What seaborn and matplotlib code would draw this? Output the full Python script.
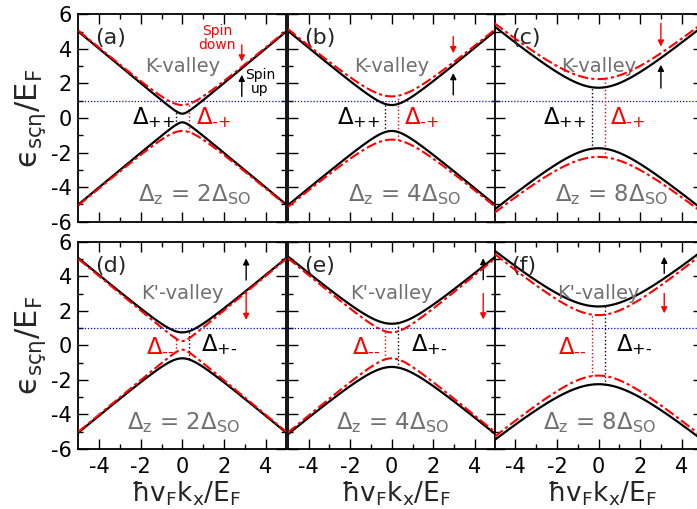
import numpy as np
import matplotlib
matplotlib.use("Agg")
import matplotlib.pyplot as plt
import seaborn as sns

sns.set_style("ticks")
plt.rcParams["font.family"] = ["DejaVu Sans"]
plt.rcParams["mathtext.fontset"] = "dejavusans"

# Zeeman-to-spin-orbit ratios for the three columns
dz_ratio = [2, 4, 8]
panel_tags = [["(a)", "(b)", "(c)"], ["(d)", "(e)", "(f)"]]
valley_names = ["K-valley", "K'-valley"]

# half-gaps (in units of E_F) of the spin-up (black) and spin-down (red) bands
gap_black = [[0.25, 0.75, 1.75],   # K valley
             [0.75, 1.25, 2.25]]   # K' valley
gap_red = [[0.75, 1.25, 2.25],
           [0.25, 0.75, 1.75]]
fermi_level = 1.0

# subscripts of the gap labels
black_sub = ["++", "+-"]
red_sub = ["-+", "--"]

# gap-label anchor positions (x of the label edge)
black_lbl_x = [[-0.37, -0.56, -0.58], [0.92, 0.95, 0.85]]
red_lbl_x = [[0.68, 0.59, 0.53], [-0.37, -0.55, -0.59]]

# spin arrows: x, (y_tail, y_head)
arrow_x = [[2.86, 2.96, 3.0], [3.07, 4.4, 3.16]]
up_arrow_y = [[(1.25, 2.5), (1.34, 2.6), (1.73, 3.08)],
              [(3.78, 5.04), (3.8, 5.05), (4.17, 5.13)]]
down_arrow_y = [[(4.23, 3.27), (4.71, 3.75), (5.48, 4.13)],
                [(3.01, 1.47), (3.0, 1.5), (3.0, 1.85)]]

W, H = 697, 509
fig = plt.figure(figsize=(W / 100, H / 100), dpi=100)

col_left = [78.3, 287.7, 494.5]
col_w = 208.0
row_top = [14.3, 241.7]
row_h = [207.4, 207.3]

k = np.linspace(-5, 5, 801)
grey = "#707070"
red_ls = (0, (5, 1.5, 1.5, 1.5))


def gap_label(sub):
    return r"$\Delta_{\text{" + sub + "}}$"


for r in range(2):
    for c in range(3):
        ax = fig.add_axes([col_left[c] / W, 1 - (row_top[r] + row_h[r]) / H,
                           col_w / W, row_h[r] / H])
        gb = gap_black[r][c]
        gr = gap_red[r][c]
        eb = np.sqrt(k ** 2 + gb ** 2)
        er = np.sqrt(k ** 2 + gr ** 2)

        ax.axhline(fermi_level, color="blue", ls=(0, (1, 1.5)), lw=0.9, zorder=1)
        for sgn in (1, -1):
            sns.lineplot(x=k, y=sgn * eb, ax=ax, color="black", lw=1.6,
                         sort=False, zorder=3)
            sns.lineplot(x=k, y=sgn * er, ax=ax, color="red", lw=1.5,
                         linestyle=red_ls, sort=False, zorder=4)

        # vertical gap markers
        xb = -0.3 if r == 0 else 0.3
        xr = -xb
        hb = np.sqrt(xb ** 2 + gb ** 2)
        hr = np.sqrt(xr ** 2 + gr ** 2)
        ax.plot([xb, xb], [-hb, hb], color="black", ls=":", lw=1.0, zorder=2)
        ax.plot([xr, xr], [-hr, hr], color="red", ls=":", lw=1.0, zorder=2)

        # gap labels
        b_ha = "right" if r == 0 else "left"
        r_ha = "left" if r == 0 else "right"
        ax.text(black_lbl_x[r][c], 0.05, gap_label(black_sub[r]),
                color="black", fontsize=16.5, ha=b_ha, va="center")
        ax.text(red_lbl_x[r][c], 0.05, gap_label(red_sub[r]),
                color="red", fontsize=16.5, ha=r_ha, va="center")

        ax.text(-4.2, 4.6, panel_tags[r][c], fontsize=16, ha="left", va="center")
        ax.text(0.0, 3.0, valley_names[r], fontsize=14, color=grey,
                ha="center", va="center")
        zx = 0.6 if r == 0 else 0.05
        ax.text(zx, -4.45,
                r"$\Delta_{\mathrm{z}}$ = " + str(dz_ratio[c]) + r"$\Delta_{\mathrm{SO}}$",
                fontsize=16.5, color=grey, ha="center", va="center")

        ax_x = arrow_x[r][c]
        ax.annotate("", xy=(ax_x, up_arrow_y[r][c][1]), xytext=(ax_x, up_arrow_y[r][c][0]),
                    arrowprops=dict(arrowstyle="-|>", color="black", lw=1.0,
                                    mutation_scale=9, shrinkA=0, shrinkB=0))
        ax.annotate("", xy=(ax_x, down_arrow_y[r][c][1]), xytext=(ax_x, down_arrow_y[r][c][0]),
                    arrowprops=dict(arrowstyle="-|>", color="red", lw=1.0,
                                    mutation_scale=9, shrinkA=0, shrinkB=0))
        if r == 0 and c == 0:
            ax.text(1.69, 4.63, "Spin\ndown", color="red", fontsize=10,
                    ha="center", va="center", linespacing=1.0)
            ax.text(3.74, 2.07, "Spin\nup", color="black", fontsize=10,
                    ha="center", va="center", linespacing=1.0)

        ax.set_xlim(-5, 5)
        ax.set_ylim(-6, 6)
        ax.set_xticks([-4, -2, 0, 2, 4])
        ax.set_xticks([-3, -1, 1, 3], minor=True)
        ax.set_yticks([-6, -4, -2, 0, 2, 4, 6])
        ax.set_yticks([-5, -3, -1, 1, 3, 5], minor=True)
        ax.tick_params(which="both", direction="in", top=True, right=True,
                       width=1.0, labelsize=15, colors="black")
        ax.tick_params(which="major", length=7)
        ax.tick_params(which="minor", length=3.5)
        ax.tick_params(axis="y", pad=4.5)
        ax.tick_params(axis="x", pad=5.5)
        if c != 0:
            ax.set_yticklabels([])
        else:
            ax.set_yticklabels(["-6", "-4", "-2", "0", "2", "4", "6"])
        if r == 0:
            ax.set_xticklabels([])
        else:
            ax.set_xticklabels(["-4", "-2", "0", "2", "4"])
        ax.set_xlabel("")
        ax.set_ylabel("")
        for s in ax.spines.values():
            s.set_linewidth(1.3)
            s.set_color("black")

        if r == 1:
            fig.text((col_left[c] + col_w / 2 + 4) / W, 1 - 501.7 / H,
                     r"$\mathregular{ħv_Fk_x/E_F}$", fontsize=19,
                     ha="center", va="baseline")
    fig.text(31 / W, 1 - (row_top[r] + row_h[r] / 2) / H,
             r"$\mathregular{ϵ_{sçη}/E_F}$", fontsize=22, rotation=90,
             ha="center", va="center")

fig.savefig("out.png", dpi=100)
